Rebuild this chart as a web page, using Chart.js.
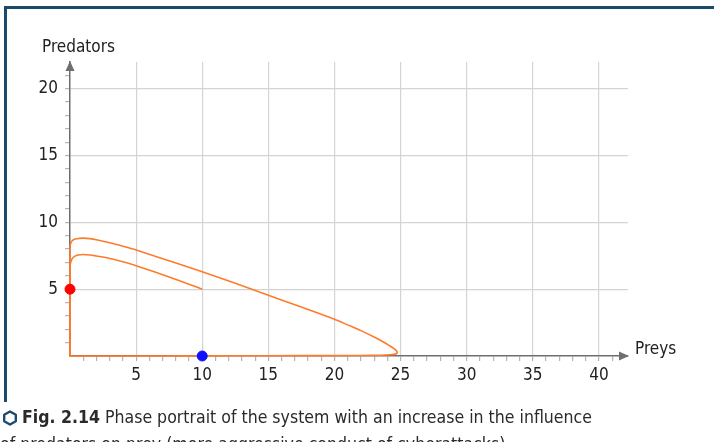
<!DOCTYPE html>
<html>
<head>
<meta charset="utf-8">
<script src="https://cdn.jsdelivr.net/npm/chart.js@4.4.1/dist/chart.umd.min.js"></script>
<style>
  html, body { margin: 0; padding: 0; background: #ffffff; }
  body { width: 714px; height: 442px; position: relative; overflow: hidden; }
  #frameTop { position: absolute; left: 4px; top: 6px; width: 710px; height: 3px; background: #1b4a6b; }
  #frameLeft { position: absolute; left: 4px; top: 6px; width: 3px; height: 396px; background: #1b4a6b; }
  #c { position: absolute; left: 0; top: 0; }
  .cap { position: absolute; left: 0; white-space: nowrap; font-family: "Liberation Sans Narrow", "DejaVu Sans Condensed", "Roboto", sans-serif; font-size: 18px; color: #2a2a2a; transform-origin: 0 0; }
  #cap1 { top: 406px; left: 22px; }
  #cap2 { top: 433px; left: 0px; }
  #hex { position: absolute; left: 2px; top: 410px; }
</style>
</head>
<body>
<div id="frameTop"></div>
<div id="frameLeft"></div>
<canvas id="c" width="714" height="442"></canvas>
<svg id="hex" width="16" height="16" viewBox="0 0 16 16"><polygon points="8,1.5 13.8,4.8 13.8,11.2 8,14.5 2.2,11.2 2.2,4.8" fill="none" stroke="#1b4a6b" stroke-width="2.4" stroke-linejoin="round"/></svg>
<div class="cap" id="cap1"><b>Fig. 2.14</b> Phase portrait of the system with an increase in the influence</div>
<div class="cap" id="cap2">of predators on prey (more aggressive conduct of cyberattacks)</div>
<script>
// ---- data ----
const outerPreys =     [0, 0, 0.02, 0.08, 0.2, 0.4, 0.7, 1, 1.5, 2, 3, 4, 5, 7.5, 10, 12.5, 15, 17.5, 20, 21, 22, 23, 23.7, 24.2, 24.5, 24.7, 24.75, 24.6, 24.2, 23.5, 22, 20, 15, 10, 0];
const outerPredators = [0, 8.0, 8.3, 8.5, 8.65, 8.75, 8.8, 8.82, 8.78, 8.7, 8.48, 8.22, 7.94, 7.12, 6.3, 5.44, 4.55, 3.66, 2.75, 2.33, 1.9, 1.42, 1.05, 0.75, 0.56, 0.38, 0.25, 0.14, 0.09, 0.06, 0.04, 0.03, 0.02, 0.01, 0];
const innerPreys =     [10, 7.5, 5, 4, 3, 2, 1.5, 1, 0.6, 0.35, 0.18, 0.08, 0.02, 0, 0];
const innerPredators = [5, 5.92, 6.76, 7.05, 7.3, 7.48, 7.56, 7.6, 7.56, 7.45, 7.3, 7.1, 6.85, 6.5, 0];
const redPoint = [0, 5];
const bluePoint = [10, 0];
const xTickLabels = [5, 10, 15, 20, 25, 30, 35, 40];
const yTickLabels = [5, 10, 15, 20];
const xAxisTitle = "Preys";
const yAxisTitle = "Predators";

const FONT = '"Liberation Sans Narrow", "DejaVu Sans Condensed", Roboto, sans-serif';
const ORANGE = '#ff7b2c';
const GRID = '#d4d4d4';
const AXIS = '#6e6e6e';
const TICK = '#b4b4b4';
const TRANSP = 'rgba(0,0,0,0)';

const toPts = (xs, ys) => xs.map((x, i) => ({ x: x, y: ys[i] }));

const axisPlugin = {
  id: 'axisDeco',
  afterDraw(chart) {
    const { ctx, chartArea: a } = chart;
    ctx.save();
    ctx.fillStyle = AXIS;
    // y arrow
    ctx.beginPath();
    ctx.moveTo(a.left, a.top - 1);
    ctx.lineTo(a.left - 4.5, a.top + 9);
    ctx.lineTo(a.left + 4.5, a.top + 9);
    ctx.closePath();
    ctx.fill();
    // x arrow
    ctx.beginPath();
    ctx.moveTo(a.right + 1, a.bottom);
    ctx.lineTo(a.right - 9, a.bottom - 4.5);
    ctx.lineTo(a.right - 9, a.bottom + 4.5);
    ctx.closePath();
    ctx.fill();
    // titles
    ctx.fillStyle = '#222';
    ctx.font = '17px ' + FONT;
    ctx.textBaseline = 'middle';
    ctx.textAlign = 'left';
    ctx.fillText(yAxisTitle, a.left - 28, a.top - 14);
    ctx.fillText(xAxisTitle, a.right + 7, a.bottom - 6);
    ctx.restore();
  }
};

const isLabel = (v, list) => list.indexOf(v) >= 0;

new Chart(document.getElementById('c'), {
  type: 'scatter',
  data: {
    datasets: [
      { data: [{ x: redPoint[0], y: redPoint[1] }], backgroundColor: '#ff0000', borderColor: '#ff0000', pointRadius: 5, order: 0 },
      { data: [{ x: bluePoint[0], y: bluePoint[1] }], backgroundColor: '#1010ff', borderColor: '#1010ff', pointRadius: 5, order: 0 },
      { data: toPts(outerPreys, outerPredators), showLine: true, borderColor: ORANGE, borderWidth: 1.6, pointRadius: 0, tension: 0.3, fill: false, order: 1 },
      { data: toPts(innerPreys, innerPredators), showLine: true, borderColor: ORANGE, borderWidth: 1.6, pointRadius: 0, tension: 0.3, fill: false, order: 1 }
    ]
  },
  options: {
    responsive: false,
    animation: false,
    devicePixelRatio: 1,
    clip: false,
    layout: { padding: { left: 0, top: 62, right: 86, bottom: 0 } },
    plugins: { legend: { display: false }, tooltip: { enabled: false }, title: { display: false } },
    scales: {
      x: {
        type: 'linear', min: 0, max: 42.2,
        afterFit(s) { s.height = 86; },
        border: { display: true, color: AXIS, width: 1.5 },
        grid: {
          color: c => (c.tick && isLabel(c.tick.value, xTickLabels)) ? GRID : TRANSP,
          tickColor: c => (c.tick && Number.isInteger(c.tick.value) && c.tick.value > 0 && c.tick.value <= 42) ? TICK : TRANSP,
          lineWidth: 1.2, tickLength: 5, drawTicks: true
        },
        ticks: {
          stepSize: 1, autoSkip: false, maxRotation: 0, padding: 4,
          color: '#222', font: { family: FONT, size: 17 },
          callback: v => isLabel(v, xTickLabels) ? String(v) : ''
        }
      },
      y: {
        type: 'linear', min: 0, max: 22,
        afterFit(s) { s.width = 70; },
        border: { display: true, color: AXIS, width: 1.5 },
        grid: {
          color: c => (c.tick && isLabel(c.tick.value, yTickLabels)) ? GRID : TRANSP,
          tickColor: c => (c.tick && Number.isInteger(c.tick.value) && c.tick.value > 0 && c.tick.value <= 21) ? TICK : TRANSP,
          lineWidth: 1.2, tickLength: 5, drawTicks: true
        },
        ticks: {
          stepSize: 1, autoSkip: false, padding: 7,
          color: '#222', font: { family: FONT, size: 17 },
          callback: v => isLabel(v, yTickLabels) ? String(v) : ''
        }
      }
    }
  },
  plugins: [axisPlugin]
});

// fit caption line 1 to reference width
(function () {
  const c1 = document.getElementById('cap1');
  const c2 = document.getElementById('cap2');
  const w = c1.getBoundingClientRect().width;
  const s = 570 / w;
  c1.style.transform = 'scaleX(' + s + ')';
  c2.style.transform = 'scaleX(' + s + ')';
})();
</script>
</body>
</html>
